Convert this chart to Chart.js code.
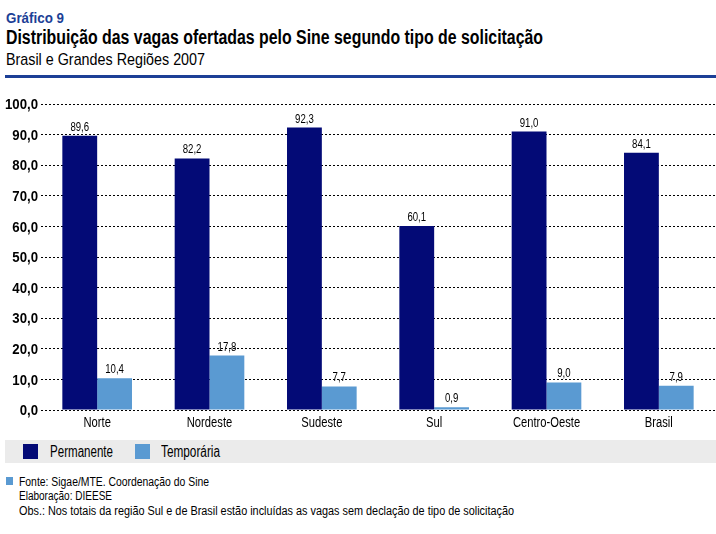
<!DOCTYPE html>
<html>
<head>
<meta charset="utf-8">
<script src="https://cdn.jsdelivr.net/npm/chart.js@4/dist/chart.umd.min.js"></script>
<style>
  body { margin: 0; background: #fff; font-family: "Liberation Sans", Arial, sans-serif; }
  #page { position: relative; width: 716px; height: 534px; overflow: hidden; }
  .txt { position: absolute; white-space: nowrap; line-height: 1; transform-origin: 0 0; }
  #kicker { left: 6px; top: 10px; font-size: 15px; font-weight: bold; color: #1c3f96; }
  #title { left: 6px; top: 27px; font-size: 20px; font-weight: bold; color: #000; }
  #subtitle { left: 6px; top: 51px; font-size: 17px; color: #000; }
  #rule { position: absolute; left: 5px; top: 75px; width: 711px; height: 3px; background: #1c3f96; }
  #wrap { position: absolute; left: 0; top: 90px; width: 716px; height: 345px; }
  #legend { position: absolute; left: 5px; top: 440px; width: 711px; height: 23px; background: #ebebeb; }
  .sw { position: absolute; top: 4px; width: 15px; height: 15px; }
  #legend .txt { top: 4px; font-size: 16px; }
  #fsq { position: absolute; left: 6px; top: 477px; width: 7px; height: 8px; background: #5a9ad2; }
  .note { left: 19px; font-size: 12px; }
</style>
</head>
<body>
<div id="page">
  <div class="txt" id="kicker" data-w="58">Gráfico 9</div>
  <div class="txt" id="title" data-w="537">Distribuição das vagas ofertadas pelo Sine segundo tipo de solicitação</div>
  <div class="txt" id="subtitle" data-w="199">Brasil e Grandes Regiões 2007</div>
  <div id="rule"></div>
  <div id="wrap"><canvas id="chart"></canvas></div>
  <div id="legend">
    <div class="sw" style="left:18px;background:#030a76"></div>
    <div class="txt" style="left:45px" data-w="63">Permanente</div>
    <div class="sw" style="left:130px;background:#5a9ad2"></div>
    <div class="txt" style="left:156px" data-w="59">Temporária</div>
  </div>
  <div id="fsq"></div>
  <div class="txt note" style="top:476px" data-w="190">Fonte: Sigae/MTE. Coordenação do Sine</div>
  <div class="txt note" style="top:490px" data-w="93">Elaboração: DIEESE</div>
  <div class="txt note" style="top:505px" data-w="495">Obs.: Nos totais da região Sul e de Brasil estão incluídas as vagas sem declação de tipo de solicitação</div>
</div>
<script>
const regions = ['Norte', 'Nordeste', 'Sudeste', 'Sul', 'Centro-Oeste', 'Brasil'];
const permanente = [89.6, 82.2, 92.3, 60.1, 91.0, 84.1];
const temporaria = [10.4, 17.8, 7.7, 0.9, 9.0, 7.9];
const yTicks = [0, 10, 20, 30, 40, 50, 60, 70, 80, 90, 100];

const fmt = (v) => v.toFixed(1).replace('.', ',');
const FONT = '"Liberation Sans", Arial, sans-serif';

// no condensed face installed, so squeeze the html text horizontally
document.querySelectorAll('[data-w]').forEach((el) => {
    const w = el.getBoundingClientRect().width;
    el.style.transform = 'scaleX(' + (Number(el.dataset.w) / w) + ')';
});

function narrowText(ctx, text, x, y, k) {
    ctx.save();
    ctx.translate(x, y);
    ctx.scale(k, 1);
    ctx.fillText(text, 0, 0);
    ctx.restore();
}

// tick labels and value labels drawn condensed
const narrowLabels = {
    id: 'narrowLabels',
    afterDraw(chart) {
        const ctx = chart.ctx;
        const xs = chart.scales.x;
        const ys = chart.scales.y;
        ctx.save();
        ctx.fillStyle = '#000';

        ctx.font = 'bold 15px ' + FONT;
        ctx.textAlign = 'right';
        ctx.textBaseline = 'middle';
        yTicks.forEach((v) => narrowText(ctx, fmt(v), 38, ys.getPixelForValue(v) + 1, 0.88));

        ctx.font = '14px ' + FONT;
        ctx.textAlign = 'center';
        regions.forEach((r, i) => narrowText(ctx, r, xs.getPixelForTick(i), ys.bottom + 13, 0.8));

        ctx.font = '13px ' + FONT;
        ctx.textBaseline = 'alphabetic';
        chart.data.datasets.forEach((ds, i) => {
            chart.getDatasetMeta(i).data.forEach((bar, j) => {
                narrowText(ctx, fmt(ds.data[j]), bar.x, bar.y - 5, 0.74);
            });
        });
        ctx.restore();
    },
};

new Chart(document.getElementById('chart'), {
    type: 'bar',
    data: {
        labels: regions,
        datasets: [
            { label: 'Permanente', data: permanente, backgroundColor: '#030a76' },
            { label: 'Temporária', data: temporaria, backgroundColor: '#5a9ad2' },
        ],
    },
    options: {
        responsive: true,
        maintainAspectRatio: false,
        animation: false,
        datasets: { bar: { categoryPercentage: 0.62, barPercentage: 1.0 } },
        layout: { padding: { top: 14, right: 1, left: 0, bottom: 0 } },
        plugins: {
            legend: { display: false },
            tooltip: { enabled: false },
        },
        scales: {
            x: {
                grid: { display: false },
                border: { display: false },
                ticks: { display: false },
                afterFit(scale) { scale.height = 25; },
            },
            y: {
                min: 0,
                max: 100,
                afterBuildTicks(scale) { scale.ticks = yTicks.map((v) => ({ value: v })); },
                grid: { color: '#000', lineWidth: 1, drawTicks: false },
                border: { display: false, dash: [2, 2] },
                ticks: { display: false },
                afterFit(scale) { scale.width = 41; },
            },
        },
    },
    plugins: [narrowLabels],
});
</script>
</body>
</html>
